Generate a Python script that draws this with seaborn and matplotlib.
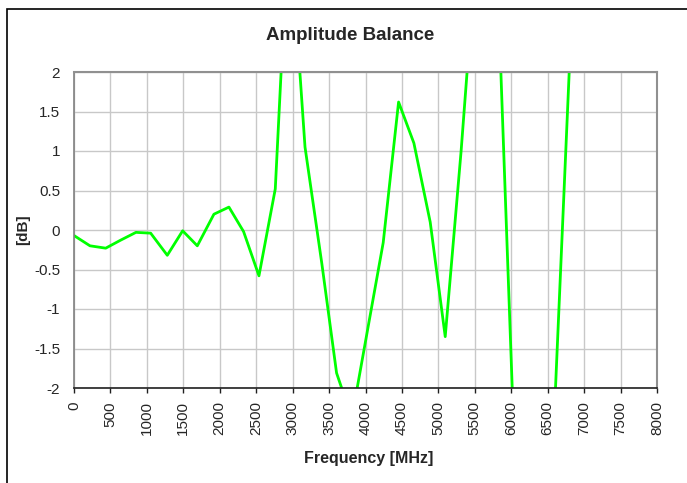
import matplotlib
matplotlib.use("Agg")
import matplotlib.pyplot as plt
import seaborn as sns
import pandas as pd
from matplotlib.patches import Rectangle

freq_mhz = [0, 219, 435, 637, 850, 1052, 1280, 1491, 1692, 1920, 2126, 2327,
            2538, 2762, 2950, 3170, 3400, 3603, 3812, 4037, 4243, 4454, 4664,
            4888, 5094, 5312, 5525, 5737, 5950, 6162, 6375, 6587, 6800, 7012]
balance_db = [-0.07, -0.20, -0.23, -0.13, -0.03, -0.04, -0.32, -0.01, -0.20, 0.20,
              0.29, -0.02, -0.58, 0.52, 4.0, 1.05, -0.42, -1.81, -2.38, -1.22,
              -0.16, 1.62, 1.10, 0.10, -1.35, 1.0, 3.6, 5.1, -0.38, -5.8,
              -6.5, -2.43, 2.1, 4.5]
x_ticks = list(range(0, 8001, 500))
y_ticks = [-2, -1.5, -1, -0.5, 0, 0.5, 1, 1.5, 2]
y_tick_labels = ["-2", "-1.5", "-1", "-0.5", "0", "0.5", "1", "1.5", "2"]

df = pd.DataFrame({"Frequency": freq_mhz, "dB": balance_db})

sns.set_style("white")
plt.rcParams["font.family"] = ["Liberation Sans", "DejaVu Sans"]

W, H = 687, 483
fig = plt.figure(figsize=(W / 100, H / 100), dpi=100)
x0, x1, y0, y1 = 74, 657, 72, 388
ax = fig.add_axes([x0 / W, 1 - y1 / H, (x1 - x0) / W, (y1 - y0) / H])

# outer chart border (cut off at right and bottom like the reference)
fig.patches.append(Rectangle((7 / W, -0.05), 1.2, 1 - 9 / H + 0.05,
                             transform=fig.transFigure, fill=False,
                             edgecolor="black", linewidth=1.2))

sns.lineplot(data=df, x="Frequency", y="dB", ax=ax, color="#00ff00",
             linewidth=2.0, sort=False, estimator=None)

ax.set_xlim(0, 8000)
ax.set_ylim(-2, 2)
ax.set_xticks(x_ticks)
ax.set_xticklabels([str(t) for t in x_ticks], rotation=90, fontsize=11)
ax.set_yticks(y_ticks)
ax.set_yticklabels(y_tick_labels, fontsize=11)
ax.grid(True, color="#c8c8c8", linewidth=1.0)
ax.set_axisbelow(True)

for s in ["top", "right"]:
    ax.spines[s].set_color("#909090")
    ax.spines[s].set_linewidth(1.5)
ax.spines["left"].set_color("#808080")
ax.spines["left"].set_linewidth(1.2)
ax.spines["bottom"].set_color("#202020")
ax.spines["bottom"].set_linewidth(1.2)

ax.tick_params(axis="x", direction="out", length=3.6, width=1, color="#202020",
               pad=6, bottom=True)
ax.tick_params(axis="y", length=0, pad=10)

ax.set_xlabel("Frequency [MHz]", fontsize=11.5, fontweight="bold")
ax.xaxis.set_label_coords((369 - x0) / (x1 - x0), -(451 - y1) / (y1 - y0))
ax.set_ylabel("[dB]", fontsize=11, fontweight="bold")
ax.yaxis.set_label_coords(-(x0 - 30) / (x1 - x0), 0.5)
fig.text(350 / W, 1 - 36 / H, "Amplitude Balance", fontsize=13.5,
         fontweight="bold", ha="center", va="center")

fig.savefig("out.png", dpi=100)
